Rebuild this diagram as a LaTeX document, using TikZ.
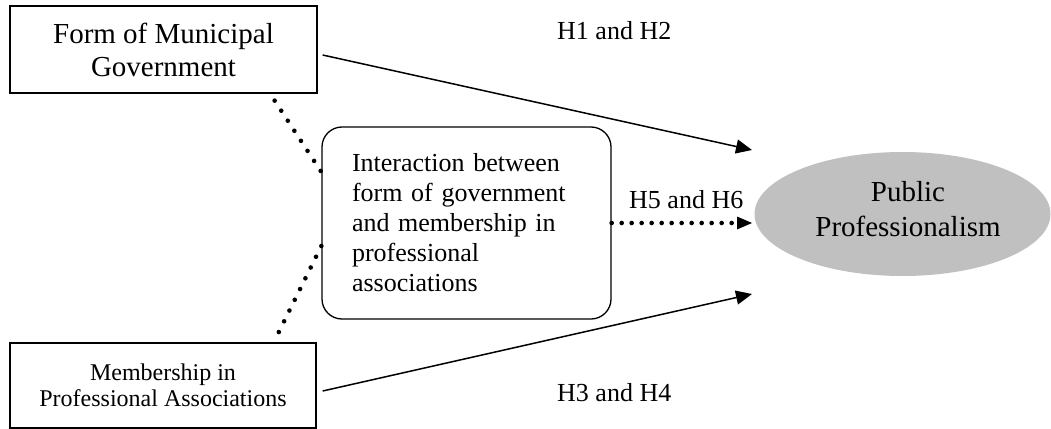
\documentclass[tikz,border=0pt]{standalone}
\usepackage{fontspec}
\setmainfont{Liberation Serif}
\usetikzlibrary{arrows.meta,shapes.geometric,calc}
\definecolor{ellgray}{RGB}{192,192,192}
\begin{document}
\begin{tikzpicture}[x=1pt,y=-1pt,
  box/.style={draw,line width=1.3pt,inner sep=0pt,align=center},
  solidarrow/.style={line width=1.5pt,-{Triangle[length=16pt,width=14pt]}},
  dotline/.style={line width=4.6pt,line cap=round,dash pattern=on 0pt off 12pt},
  dotarrow/.style={line width=4.6pt,line cap=round,dash pattern=on 0pt off 10pt,
    -{Triangle[length=15pt,width=13pt,line width=0pt]}},
  lbl/.style={inner sep=0pt,font=\fontsize{26}{30}\selectfont}]
\useasboundingbox (0,0) rectangle (1051,428);

% the three explanatory blocks
\node[box,minimum width=307pt,minimum height=87pt,
      font=\fontsize{29}{33}\selectfont] (gov) at (163.5,49.5)
      {Form of Municipal\\Government};
\node[box,minimum width=306pt,minimum height=85pt,
      font=\fontsize{24}{26.5}\selectfont] (mem) at (163,385.5)
      {Membership in\\Professional Associations};
\node[box,rounded corners=20pt,minimum width=289pt,minimum height=192pt,
      text width=229pt,align=left,
      font=\fontsize{26}{30}\selectfont] (inter) at (466.5,223)
      {Interaction between\\form of government\\and membership in\\professional\\associations};

% outcome
\node[ellipse,fill=ellgray,minimum width=296pt,minimum height=124pt,
      inner sep=0pt] (pp) at (902.5,214) {};
\node[inner sep=0pt,align=center,font=\fontsize{29}{35}\selectfont]
      (pptxt) at (908,209.5) {Public\\Professionalism};

% arrow targets in front of the outcome
\coordinate (tipA) at (752,150);
\coordinate (tipB) at (752,223);
\coordinate (tipC) at (752,294);

% hypothesised effects
\draw[solidarrow] ($(gov.east)+(5,5.5)$) -- (tipA);
\draw[solidarrow] ($(mem.east)+(6,5.5)$) -- (tipC);
\draw[dotarrow] (inter.east) -- (tipB);

% components of the interaction term
\draw[dotline] ($(gov.south east)+(-43,7)$) -- ($(inter.west)+(0,-51)$);
\draw[dotline] ($(inter.west)+(0,23)$) -- ($(mem.north east)+(-38,-10)$);

% hypothesis labels
\node[lbl,anchor=base west] (h12) at (557,40) {H1 and H2};
\node[lbl,anchor=base west] (h56) at (629,208) {H5 and H6};
\node[lbl,anchor=base west] (h34) at (557,401) {H3 and H4};
\end{tikzpicture}
\end{document}
